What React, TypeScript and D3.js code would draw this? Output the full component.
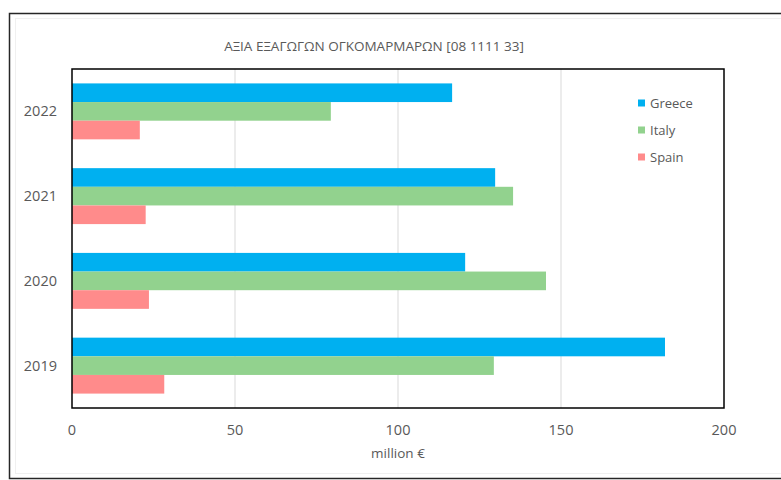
import React from "react";
import * as d3 from "d3";

const years = ["2022", "2021", "2020", "2019"];
const seriesNames = ["Greece", "Italy", "Spain"];
const greece = [116.6, 129.8, 120.6, 181.9];
const italy = [79.4, 135.3, 145.4, 129.4];
const spain = [20.8, 22.6, 23.6, 28.3];
const xTicks = [0, 50, 100, 150, 200];
const title = "ΑΞΙΑ ΕΞΑΓΩΓΩΝ ΟΓΚΟΜΑΡΜΑΡΩΝ [08 1111 33]";
const xLabel = "million €";

const colors = ["#00b0f0", "#92d28e", "#ff8b8b"];
const FONT = "'Open Sans', sans-serif";

export default function App() {
  const W = 781, H = 480;
  const plot = { left: 72, right: 724, top: 69, bottom: 408 };
  const x = d3.scaleLinear().domain([0, 200]).range([plot.left, plot.right]);
  const y = d3.scaleBand<string>().domain(years).range([plot.top, plot.bottom]).paddingInner(0.34).paddingOuter(0.17);
  const inner = d3.scaleBand<string>().domain(seriesNames).range([0, y.bandwidth()]);
  const values = [greece, italy, spain];

  return (
    <svg width={W} height={H} style={{ position: "absolute", left: 0, top: 0, background: "#fff" }}>
      <rect x={9.5} y={13.5} width={800} height={465} fill="#fff" stroke="#262626" strokeWidth={1.5} />
      <rect x={15.5} y={18.5} width={790} height={455} fill="none" stroke="#f0f0f0" strokeWidth={1} />
      <text x={374} y={46} dy="0.35em" textAnchor="middle" fontFamily={FONT} fontSize={13.5} fill="#595959">{title}</text>
      {xTicks.slice(1, -1).map((t) => (
        <line key={t} x1={x(t)} x2={x(t)} y1={plot.top} y2={plot.bottom} stroke="#d9d9d9" strokeWidth={1} />
      ))}
      {years.map((yr, i) => (
        <g key={yr}>
          {seriesNames.map((s, j) => (
            <rect key={s} x={x(0)} y={(y(yr) as number) + (inner(s) as number)} width={x(values[j][i]) - x(0)} height={inner.bandwidth()} fill={colors[j]} />
          ))}
        </g>
      ))}
      <rect x={plot.left} y={plot.top} width={plot.right - plot.left} height={plot.bottom - plot.top} fill="none" stroke="#000" strokeWidth={1.5} />
      {years.map((yr) => (
        <text key={yr} x={57} y={(y(yr) as number) + y.bandwidth() / 2} dy="0.35em" textAnchor="end" fontFamily={FONT} fontSize={14.5} fill="#595959">{yr}</text>
      ))}
      {xTicks.map((t) => (
        <text key={t} x={x(t)} y={430} dy="0.35em" textAnchor="middle" fontFamily={FONT} fontSize={14.5} fill="#595959">{t}</text>
      ))}
      <text x={398} y={453} dy="0.35em" textAnchor="middle" fontFamily={FONT} fontSize={13.5} fill="#595959">{xLabel}</text>
      {seriesNames.map((s, j) => (
        <g key={s} transform={`translate(638, ${103 + j * 27})`}>
          <rect x={0} y={-3.5} width={7} height={7} fill={colors[j]} />
          <text x={12} y={0} dy="0.35em" fontFamily={FONT} fontSize={13} fill="#595959">{s}</text>
        </g>
      ))}
    </svg>
  );
}
